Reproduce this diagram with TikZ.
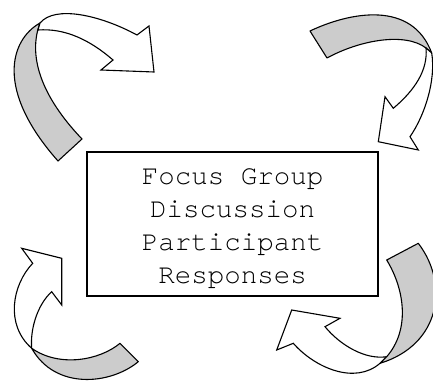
\documentclass[tikz,border=0pt]{standalone}
\usepackage{fontspec}
\newfontfamily\courfont{TeX Gyre Cursor}
\definecolor{ribbongray}{RGB}{204,204,204}
\begin{document}
\begin{tikzpicture}[x=1pt,y=-1pt,
  back/.style={draw=black,line width=1.1pt,fill=ribbongray,line join=round},
  front/.style={draw=black,line width=1.1pt,fill=white,line join=miter},
  boxstyle/.style={draw=black,line width=1.1pt,minimum width=291pt,minimum height=144pt,inner sep=0pt},
  labelstyle/.style={font=\courfont\fontsize{27.5}{33}\selectfont,align=center,inner sep=0pt}]
\useasboundingbox (0,0) rectangle (433,390);

% central box and text
\node[boxstyle] (box) at (232.5,224) {};
\node[labelstyle] (label) at (232.5,229) {Focus Group\\Discussion\\Participant\\Responses};

% top-left arrow
\path[back] (40,23) .. controls (10,40) and (-5,90) .. (58,161) -- (82,139)
  .. controls (40,95) and (28,55) .. (40,23) -- cycle;
\path[front] (40,23) .. controls (55,5) and (100,15) .. (137,35) -- (149,26) -- (154,72)
  -- (101,70) -- (113,60) .. controls (90,40) and (65,28) .. (38,30) -- cycle;

% top-right arrow
\path[back] (310,31) .. controls (350,12) and (412,0) .. (431.7,53) -- (426,48)
  .. controls (405,32) and (360,40) .. (327,58) -- cycle;
\path[front] (431.7,53) .. controls (436,80) and (425,115) .. (410,136.7) -- (418.3,150)
  -- (378.3,141.7) -- (385,96.7) -- (393.3,108.3) .. controls (415,90) and (428,70) .. (426,48) -- cycle;

% bottom-left arrow
\path[front] (32.7,263.3) .. controls (12,285) and (5,325) .. (31.7,348.3)
  .. controls (30,330) and (37,305) .. (51.7,291.7) -- (61.7,305) -- (61.7,258.3)
  -- (21.7,248.3) -- cycle;
\path[back] (31.7,348.3) .. controls (60,368) and (100,360) .. (120,343.3) -- (138.3,361.7)
  .. controls (110,385) and (55,390) .. (31.7,348.3) -- cycle;

% bottom-right arrow
\path[front] (293.3,343.3) .. controls (315,368) and (355,385) .. (380,363.3) -- (386.7,356.7)
  .. controls (365,360) and (340,345) .. (325,326.7) -- (340,318.3) -- (291.7,310)
  -- (276.7,350) -- cycle;
\path[back] (386.7,260) .. controls (405,290) and (410,330) .. (386.7,356.7) -- (380,363.3)
  .. controls (440,345) and (450,285) .. (418.3,243.3) -- cycle;
\end{tikzpicture}
\end{document}
